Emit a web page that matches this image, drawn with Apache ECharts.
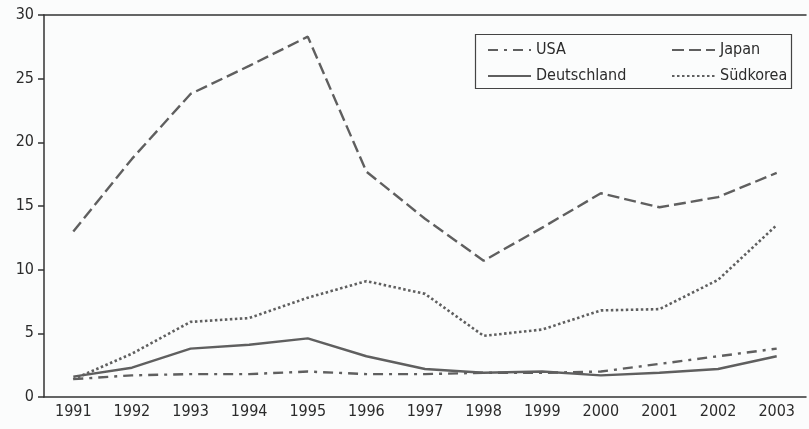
<!DOCTYPE html>
<html>
<head>
<meta charset="utf-8">
<script src="https://cdn.jsdelivr.net/npm/echarts@6/dist/echarts.min.js"></script>
<style>
  html, body { margin: 0; padding: 0; background: #fbfcfc; }
  #chart { width: 809px; height: 429px; }
</style>
</head>
<body>
<div id="chart"></div>
<script>
const years = ['1991', '1992', '1993', '1994', '1995', '1996', '1997', '1998', '1999', '2000', '2001', '2002', '2003'];
const usa = [1.4, 1.7, 1.8, 1.8, 2.0, 1.8, 1.8, 1.9, 1.9, 2.0, 2.6, 3.2, 3.8];
const japan = [13.0, 18.7, 23.8, 26.0, 28.3, 17.7, 14.0, 10.7, 13.3, 16.0, 14.9, 15.7, 17.6];
const deutschland = [1.6, 2.3, 3.8, 4.1, 4.6, 3.2, 2.2, 1.9, 2.0, 1.7, 1.9, 2.2, 3.2];
const suedkorea = [1.4, 3.4, 5.9, 6.2, 7.8, 9.1, 8.1, 4.8, 5.3, 6.8, 6.9, 9.2, 13.5];

const FONT = "'Liberation Sans Narrow', 'DejaVu Sans Condensed', 'Noto Sans', sans-serif";
const LINE = '#5f5f5f';
const TEXT = '#2b2b2b';

var myChart = echarts.init(document.getElementById('chart'));

function lineSeries(name, data, dash, w) {
  return {
    name: name,
    type: 'line',
    data: data,
    symbol: 'none',
    xAxisIndex: 0,
    lineStyle: { color: LINE, width: w || 2.4, type: dash },
    itemStyle: { color: LINE }
  };
}

const legendBase = {
  orient: 'vertical',
  top: 37,
  itemWidth: 43,
  itemHeight: 12,
  itemGap: 10,
  itemStyle: { opacity: 0 },
  textStyle: { fontFamily: FONT, fontSize: 16, color: TEXT }
};

const option = {
  animation: false,
  backgroundColor: '#fbfcfc',
  textStyle: { fontFamily: FONT },
  grid: { left: 44, right: 3, top: 15, bottom: 32 },
  graphic: [{
    type: 'rect',
    left: 473, top: 32,
    shape: { width: 316, height: 54 },
    style: { fill: 'none', stroke: '#444', lineWidth: 1.2 }
  }],
  legend: [
    Object.assign({}, legendBase, { left: 482, data: ['USA', 'Deutschland'] }),
    Object.assign({}, legendBase, { left: 666, data: ['Japan', 'Südkorea'] })
  ],
  xAxis: [{
    type: 'category',
    data: years,
    boundaryGap: true,
    axisLine: { lineStyle: { color: '#333', width: 1.5 } },
    axisTick: { alignWithLabel: false, length: 5, lineStyle: { color: '#333', width: 1.5 } },
    axisLabel: { fontFamily: FONT, fontSize: 16, color: TEXT, margin: 7 }
  }, {
    type: 'category',
    data: years,
    position: 'top',
    axisLine: { lineStyle: { color: '#333', width: 1.5 } },
    axisTick: { show: false },
    axisLabel: { show: false }
  }],
  yAxis: {
    type: 'value',
    min: 0,
    max: 30,
    interval: 5,
    splitLine: { show: false },
    axisLine: { show: true, lineStyle: { color: '#333', width: 1.5 } },
    axisTick: { show: true, length: 6, lineStyle: { color: '#333', width: 1.5 } },
    axisLabel: { fontFamily: FONT, fontSize: 16, color: TEXT, margin: 10 }
  },
  series: [
    lineSeries('USA', usa, [10, 6, 3, 6]),
    lineSeries('Japan', japan, [12, 5]),
    lineSeries('Deutschland', deutschland, 'solid'),
    lineSeries('Südkorea', suedkorea, [2.5, 2.5], 2.6)
  ]
};

myChart.setOption(option);
</script>
</body>
</html>
